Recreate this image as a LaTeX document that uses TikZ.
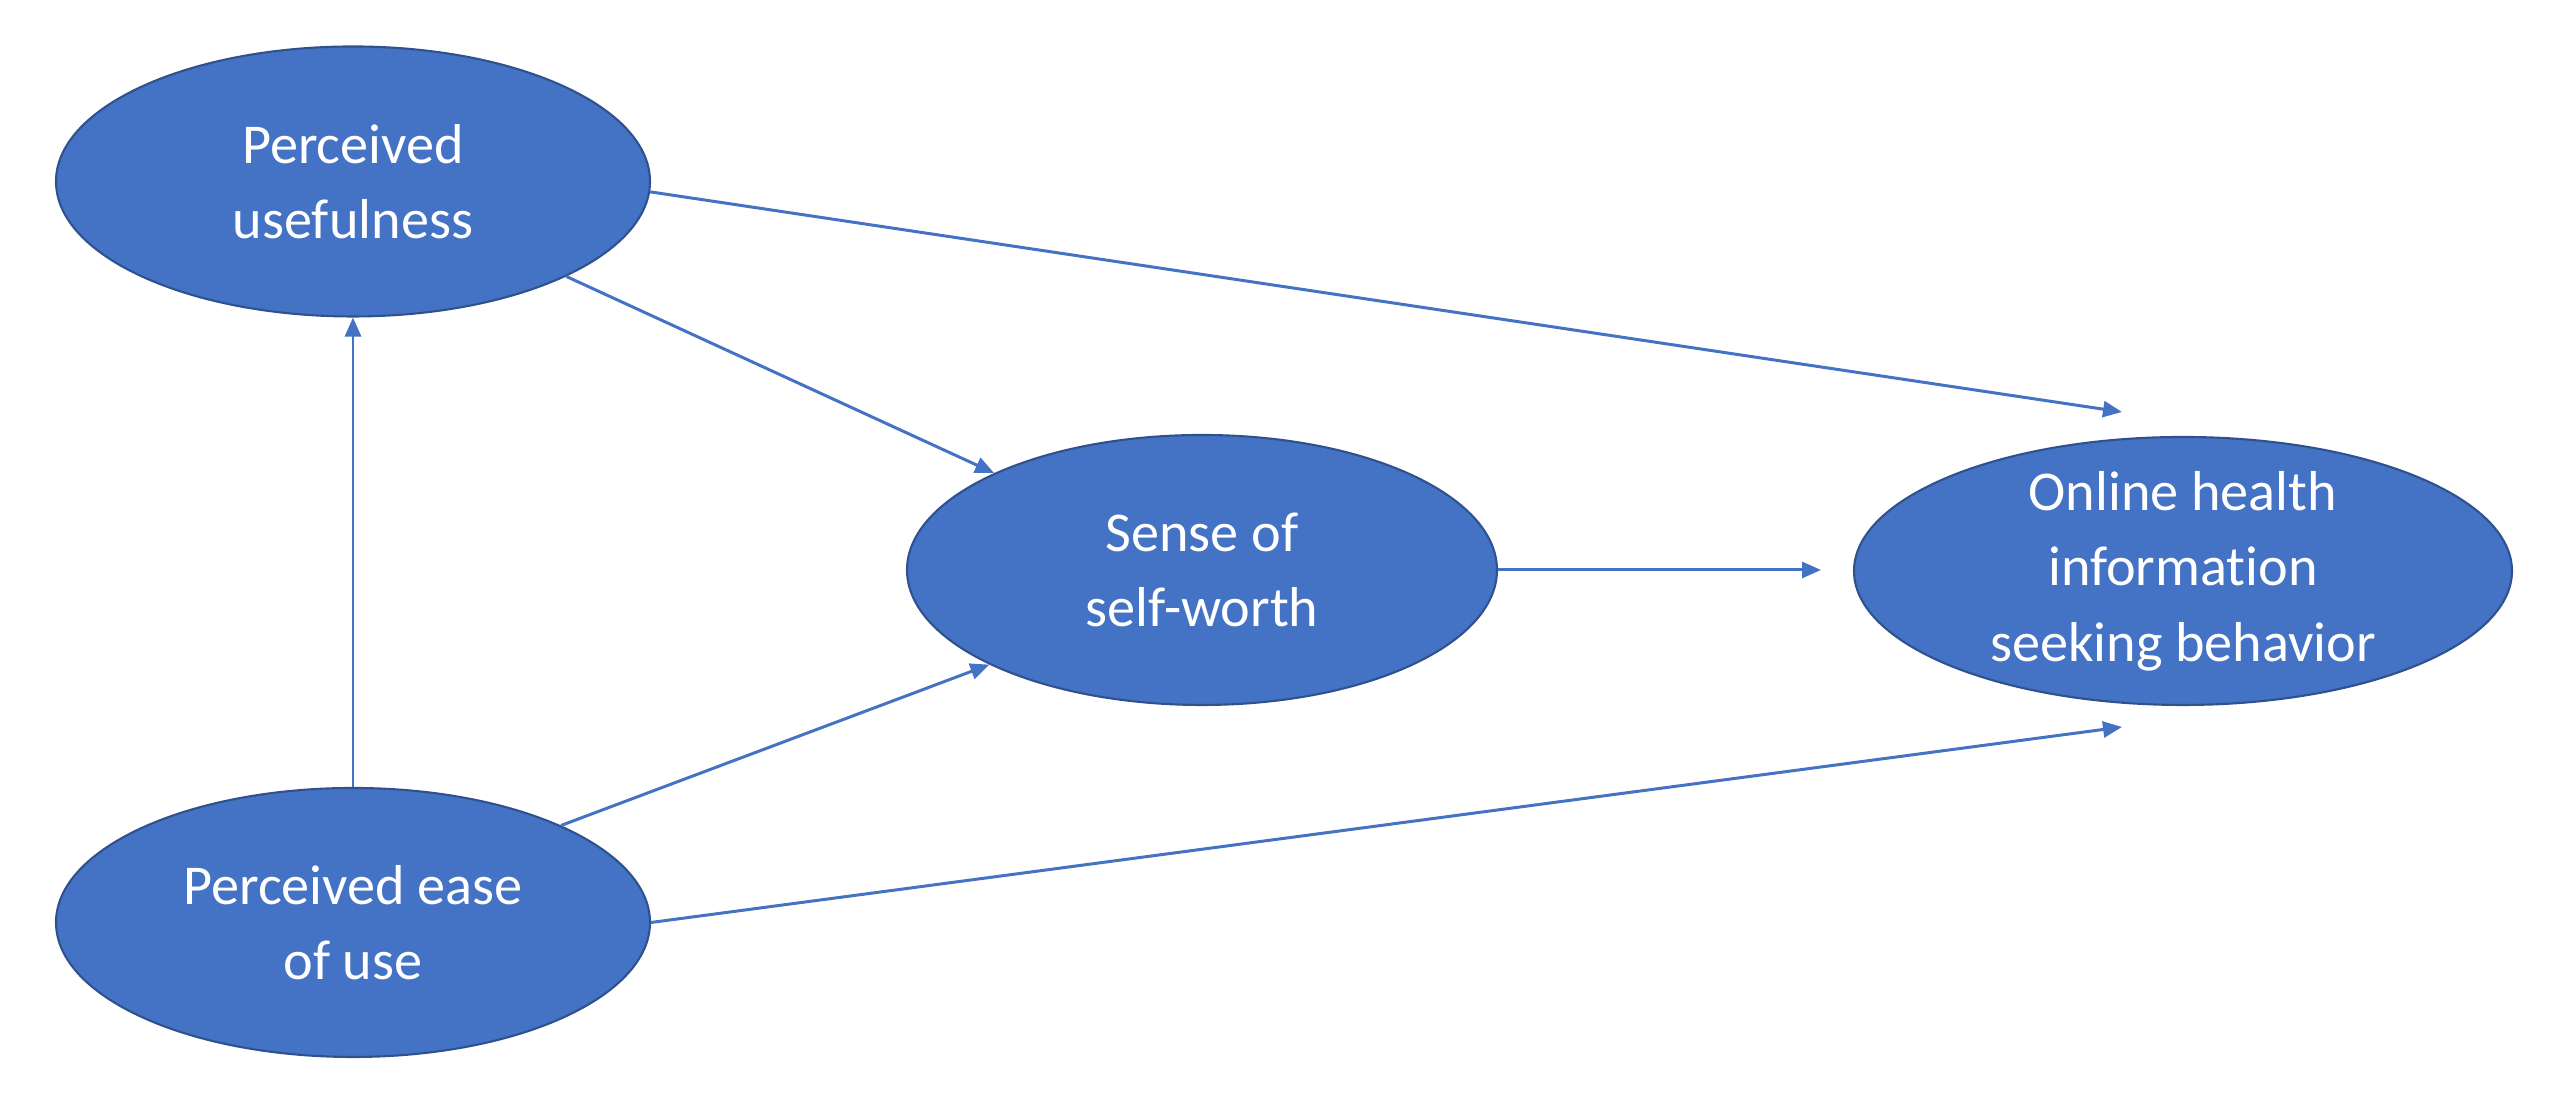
\documentclass[tikz,border=0pt]{standalone}
\usepackage{fontspec}
\setmainfont[Ligatures=NoCommon]{Carlito}
\usetikzlibrary{shapes.geometric,arrows.meta}
\definecolor{offblue}{HTML}{4472C4}
\definecolor{offedge}{HTML}{2F528F}
\begin{document}
\begin{tikzpicture}[
  ell/.style={ellipse, draw=offedge, line width=0.6pt, fill=offblue, inner sep=0pt},
  txt/.style={text=white, align=center, font=\fontsize{16}{21.5}\selectfont},
  arr/.style={draw=offblue, line width=0.85pt, -{Triangle[length=0.19cm,width=0.16cm]}}
]
\useasboundingbox (0,0) rectangle (25.68,10.98);
\node[ell, minimum width=5.94cm, minimum height=2.70cm,
      label={[txt]center:Perceived\\usefulness}] (pu) at (3.53,9.165) {};
\node[ell, minimum width=5.94cm, minimum height=2.69cm,
      label={[txt]center:Perceived ease\\of use}] (peu) at (3.53,1.755) {};
\node[ell, minimum width=5.90cm, minimum height=2.70cm,
      label={[txt]center:Sense of\\self-worth}] (ssw) at (12.02,5.28) {};
\node[ell, minimum width=6.58cm, minimum height=2.68cm,
      label={[txt]center:Online health\\information\\seeking behavior}] (oh) at (21.83,5.27) {};
\coordinate (ohtop) at (21.22,6.86);
\coordinate (ohbot) at (21.22,3.71);
\coordinate (ohleft) at (18.21,5.28);
\draw[arr] (peu) -- (pu);
\draw[arr] (pu.336) -- (ssw.155);
\draw[arr] (peu.25) -- (ssw.204);
\draw[arr] (pu.358) -- (ohtop);
\draw[arr] (peu.0) -- (ohbot);
\draw[arr] (ssw.east) -- (ohleft);
\end{tikzpicture}
\end{document}
